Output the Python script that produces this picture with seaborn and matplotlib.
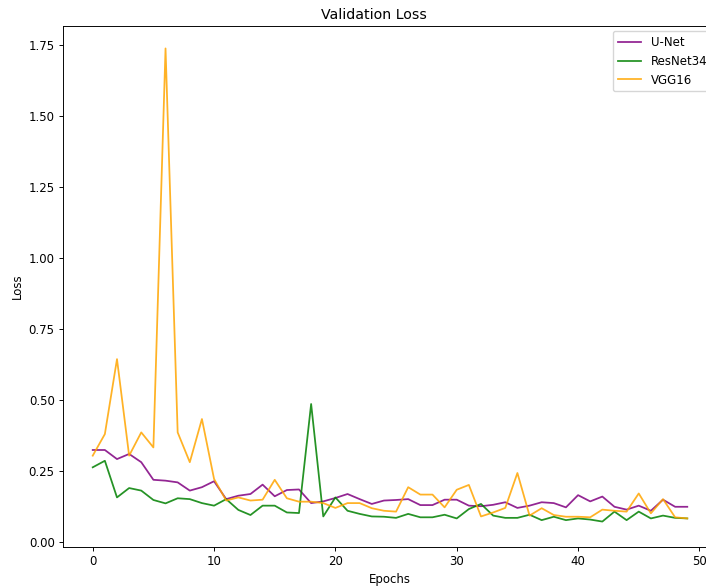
import numpy as np
import pandas as pd
import matplotlib
matplotlib.use("Agg")
import matplotlib.pyplot as plt
import seaborn as sns

epochs = list(range(50))

unet = [0.324, 0.324, 0.292, 0.310, 0.281, 0.219, 0.216, 0.210, 0.181, 0.193,
        0.214, 0.151, 0.163, 0.169, 0.202, 0.161, 0.183, 0.185, 0.137, 0.143,
        0.155, 0.169, 0.151, 0.134, 0.146, 0.148, 0.151, 0.130, 0.130, 0.149,
        0.149, 0.128, 0.126, 0.131, 0.140, 0.120, 0.128, 0.140, 0.137, 0.122,
        0.165, 0.143, 0.160, 0.124, 0.114, 0.128, 0.110, 0.149, 0.124, 0.124]

resnet34 = [0.263, 0.286, 0.157, 0.190, 0.181, 0.148, 0.136, 0.154, 0.151, 0.137,
            0.128, 0.151, 0.113, 0.095, 0.128, 0.128, 0.104, 0.102, 0.486, 0.090,
            0.157, 0.110, 0.099, 0.090, 0.089, 0.085, 0.099, 0.087, 0.087, 0.096,
            0.083, 0.116, 0.134, 0.093, 0.085, 0.085, 0.096, 0.077, 0.089, 0.077,
            0.083, 0.079, 0.072, 0.107, 0.077, 0.107, 0.083, 0.093, 0.085, 0.083]

vgg16 = [0.304, 0.380, 0.644, 0.304, 0.386, 0.333, 1.738, 0.386, 0.281, 0.433,
         0.222, 0.146, 0.157, 0.146, 0.149, 0.219, 0.154, 0.142, 0.142, 0.137,
         0.120, 0.137, 0.137, 0.119, 0.110, 0.107, 0.193, 0.167, 0.167, 0.122,
         0.184, 0.201, 0.090, 0.104, 0.120, 0.243, 0.093, 0.119, 0.095, 0.089,
         0.089, 0.087, 0.114, 0.110, 0.107, 0.171, 0.101, 0.151, 0.087, 0.083]

models = ["U-Net", "ResNet34", "VGG16"]
colors = {"U-Net": "purple", "ResNet34": "green", "VGG16": "orange"}

df = pd.concat([
    pd.DataFrame({"Epoch": epochs, "Loss": vals, "Model": name})
    for name, vals in zip(models, [unet, resnet34, vgg16])
], ignore_index=True)

s = 0.85
plt.rcParams.update({
    "font.size": 10 * s,
    "xtick.major.size": 3.5 * s,
    "ytick.major.size": 3.5 * s,
    "xtick.major.pad": 3.5 * s,
    "ytick.major.pad": 3.5 * s,
    "axes.linewidth": 0.8 * s,
    "xtick.major.width": 0.8 * s,
    "ytick.major.width": 0.8 * s,
})

fig = plt.figure(figsize=(7.06, 5.87), dpi=100)
ax = fig.add_axes([63 / 706, 40 / 587, (717 - 63) / 706, (547 - 26) / 587])

sns.lineplot(data=df, x="Epoch", y="Loss", hue="Model", hue_order=models,
             palette=colors, linewidth=1.5 * s, ax=ax, alpha=0.85)

ax.set_title("Validation Loss", fontsize=12 * s, x=(374 - 63) / 654, pad=6 * s)
ax.set_xlabel("Epochs", fontsize=10 * s, labelpad=4 * s)
ax.set_ylabel("Loss", fontsize=10 * s, labelpad=4 * s)
ax.set_xticks([0, 10, 20, 30, 40, 50])
ax.set_yticks([0.0, 0.25, 0.5, 0.75, 1.0, 1.25, 1.5, 1.75])
ax.set_xlim(-2.45, 51.45)
ax.set_ylim(-0.0176, 1.817)
ax.tick_params(labelsize=10 * s)
leg = ax.legend(loc="upper right", title=None, fontsize=10 * s,
                borderaxespad=0.5 * s / 0.85 * 0.85, handlelength=2.0)

fig.savefig("out.png", dpi=100)
